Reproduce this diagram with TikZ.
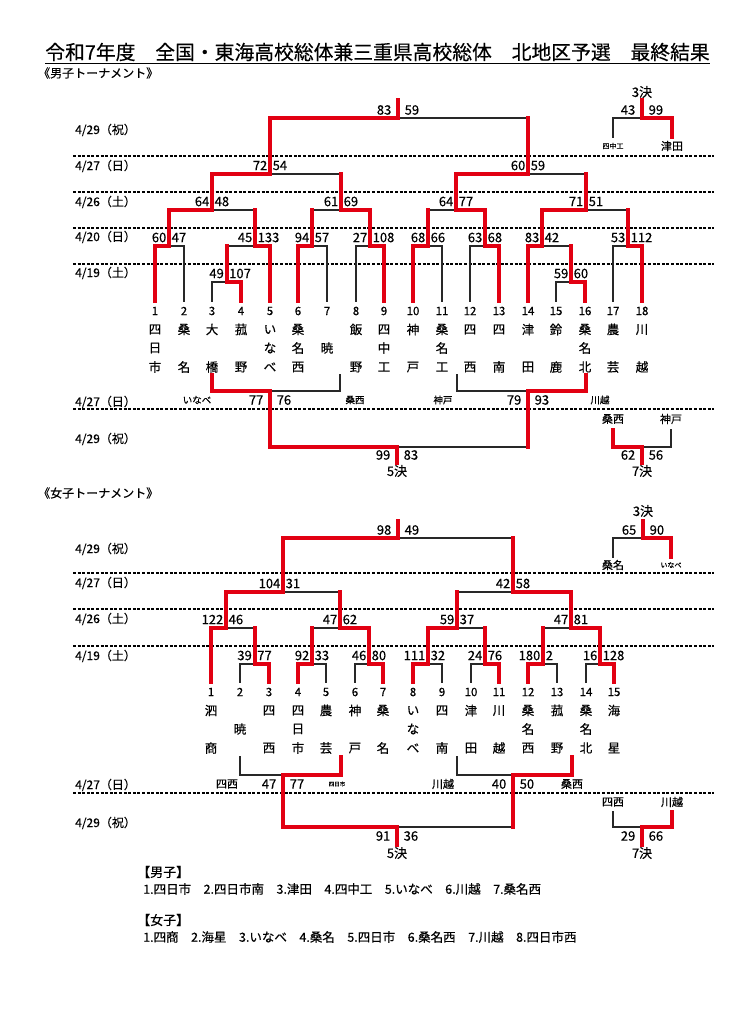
\documentclass[tikz,border=0pt]{standalone}
\usepackage{fontspec}
\setmainfont{Noto Sans CJK JP}[FakeBold=0.35]
\pgfdeclarelayer{bg}
\pgfsetlayers{bg,main}
\definecolor{wred}{RGB}{226,0,18}
\definecolor{lgray}{RGB}{40,40,40}
\newcommand{\fs}[1]{\fontsize{#1}{#1}\selectfont}
\tikzset{
 rd/.style={draw=wred,line width=4pt,line cap=rect,line join=miter},
 blk/.style={draw=lgray,line width=1.4pt,line cap=rect},
 dsh/.style={draw=black,line width=1.3pt,dash pattern=on 3pt off 1.6pt},
 sc/.style={font=\fs{13},inner sep=0pt},
 num/.style={font=\fs{11.5},inner sep=0pt},
 nm/.style={font=\fs{12.5},inner sep=0pt},
 dt/.style={font=\fs{12},inner sep=0pt,anchor=west},
 lb/.style={font=\fs{11},inner sep=0pt},
 lbs/.style={font=\fs{9.5},inner sep=0pt},
 lbt/.style={font=\fs{7},inner sep=0pt},
 ket/.style={font=\fs{13},inner sep=0pt},
 res/.style={font=\fs{12.5},inner sep=0pt,anchor=west},
}
% team: name, x, y of number, number, char1, char2, char3, line style, top y
\newcommand{\tm}[9]{%
 \node[num] (#1) at (#2,#3) {#4};
 \node[nm] (#1a) at (#2,#3+18.5) {#5};
 \node[nm] (#1b) at (#2,#3+37) {#6};
 \node[nm] (#1c) at (#2,#3+56) {#7};
 \draw[#8] (#2,#3-10) -- (#2,#9);
}
% match: name, L, R, centre, y, parent y, winner x, left score, right score
\newcommand{\mt}[9]{%
 \begin{pgfonlayer}{bg}\draw[blk] (#2,#5) -- (#3,#5);\end{pgfonlayer}
 \coordinate (#1) at (#4,#5);
 \draw[rd] (#7,#5) -- (#1) -- (#4,#6);
 \node[sc,anchor=east] (#1l) at (#4-2.5,#5-8.5) {#8};
 \node[sc,anchor=west] (#1r) at (#4+2.5,#5-8.5) {#9};
}
% wide score pair: name, centre x, y, left, right
\newcommand{\scp}[5]{%
 \node[sc,anchor=east] (#1l) at (#2-6.5,#3) {#4};
 \node[sc,anchor=west] (#1r) at (#2+6.5,#3) {#5};
}
\begin{document}
\begin{tikzpicture}[x=1pt,y=-1pt]
\begin{pgfonlayer}{bg}
\fill[white] (0,0) rectangle (752,1024);
\end{pgfonlayer}
\useasboundingbox (0,0) rectangle (752,1024);

% title
\node[font=\fs{19.8},inner sep=0pt] (title) at (377.5,52) {令和7年度　全国・東海高校総体兼三重県高校総体　北地区予選　最終結果};
\draw[line width=1.5pt] (45,63.5) -- (710,63.5);
\node[font=\fs{12},inner sep=0pt,anchor=west] (bt) at (38,73) {《男子トーナメント》};
\node[font=\fs{12},inner sep=0pt,anchor=west] (gt) at (38,493) {《女子トーナメント》};

% ================= BOYS =================
\foreach \yy in {156,192,228,264,409} {\draw[dsh] (73,\yy) -- (714,\yy);}
\node[dt] (bd1) at (75,130) {4/29（祝）};
\node[dt] (bd2) at (75,166) {4/27（日）};
\node[dt] (bd3) at (75,202) {4/26（土）};
\node[dt] (bd4) at (75,237) {4/20（日）};
\node[dt] (bd5) at (75,273) {4/19（土）};
\node[dt] (bd6) at (75,402) {4/27（日）};
\node[dt] (bd7) at (75,439) {4/29（祝）};

\tm{b1}{155}{311}{1}{四}{日}{市}{rd}{246}
\tm{b2}{184}{311}{2}{桑}{}{名}{blk}{246}
\tm{b3}{212}{311}{3}{大}{}{橋}{blk}{282}
\tm{b4}{241}{311}{4}{菰}{}{野}{rd}{282}
\tm{b5}{270}{311}{5}{い}{な}{べ}{rd}{246}
\tm{b6}{298}{311}{6}{桑}{名}{西}{rd}{246}
\tm{b7}{327}{311}{7}{}{暁}{}{blk}{246}
\tm{b8}{356}{311}{8}{飯}{}{野}{blk}{246}
\tm{b9}{384}{311}{9}{四}{中}{工}{rd}{246}
\tm{b10}{413}{311}{10}{神}{}{戸}{rd}{246}
\tm{b11}{442}{311}{11}{桑}{名}{工}{blk}{246}
\tm{b12}{470}{311}{12}{四}{}{西}{blk}{246}
\tm{b13}{499}{311}{13}{四}{}{南}{rd}{246}
\tm{b14}{528}{311}{14}{津}{}{田}{rd}{246}
\tm{b15}{556}{311}{15}{鈴}{}{鹿}{blk}{282}
\tm{b16}{585}{311}{16}{桑}{名}{北}{rd}{282}
\tm{b17}{613}{311}{17}{農}{}{芸}{blk}{246}
\tm{b18}{642}{311}{18}{川}{}{越}{rd}{246}

\mt{m1}{155}{184}{169}{246}{210}{155}{60}{47}
\mt{m2}{212}{241}{226.5}{282}{246}{241}{49}{107}
\mt{m3}{226.5}{270}{255}{246}{210}{270}{45}{133}
\mt{m4}{169}{255}{212}{210}{174}{169}{64}{48}
\mt{m5}{298}{327}{312}{246}{210}{298}{94}{57}
\mt{m6}{356}{384}{370}{246}{210}{384}{27}{108}
\mt{m7}{312}{370}{341}{210}{174}{370}{61}{69}
\mt{m8}{212}{341}{270}{174}{118}{212}{72}{54}
\mt{m9}{413}{442}{428}{246}{210}{413}{68}{66}
\mt{m10}{470}{499}{485}{246}{210}{499}{63}{68}
\mt{m11}{428}{485}{456}{210}{174}{485}{64}{77}
\mt{m12}{556}{585}{571}{282}{246}{585}{59}{60}
\mt{m13}{528}{571}{542}{246}{210}{528}{83}{42}
\mt{m14}{613}{642}{628}{246}{210}{642}{53}{112}
\mt{m15}{542}{628}{586}{210}{174}{542}{71}{51}
\mt{m16}{456}{586}{528}{174}{118}{456}{60}{59}
% final
\coordinate (bf) at (398,118);
\begin{pgfonlayer}{bg}\draw[blk] (m8 |- bf) -- (m16 |- bf);\end{pgfonlayer}
\draw[rd] (m8 |- bf) -- (bf) -- (398,100);
\scp{bfs}{398}{110}{83}{59}

% 3rd place
\coordinate (b3c) at (642,118);
\begin{pgfonlayer}{bg}\draw[blk] (613,137) -- (613,118) -- (b3c);\end{pgfonlayer}
\draw[rd] (672,137) -- (672,118) -- (b3c) -- (642,100);
\node[ket] (b3k) at (642,92) {3決};
\scp{b3s}{642}{110}{43}{99}
\node[lbt] (b3l) at (613,146) {四中工};
\node[lb] (b3r) at (672,146) {津田};

% 5th place
\begin{pgfonlayer}{bg}
\draw[blk] (270,391) -- (340,391) -- (340,375);
\draw[blk] (457,375) -- (457,391) -- (528,391);
\draw[blk] (397,447) -- (528,447);
\end{pgfonlayer}
\draw[rd] (212,375) -- (212,391) -- (270,391) -- (270,447) -- (397,447) -- (397,463);
\draw[rd] (586,375) -- (586,391) -- (528,391) -- (528,447);
\scp{b5a}{270}{400}{77}{76}
\scp{b5b}{528}{400}{79}{93}
\scp{b5f}{397}{455}{99}{83}
\node[ket] (b5k) at (397,471) {5決};
\node[lbs] (b5l1) at (197,400) {いなべ};
\node[lbs] (b5l2) at (355,400) {桑西};
\node[lbs] (b5l3) at (443,400) {神戸};
\node[lbs] (b5l4) at (600,400) {川越};
% 7th place
\begin{pgfonlayer}{bg}\draw[blk] (671,430) -- (671,447) -- (642,447);\end{pgfonlayer}
\draw[rd] (613,430) -- (613,447) -- (642,447) -- (642,463);
\node[lb] (b7l) at (613,419) {桑西};
\node[lb] (b7r) at (671,419) {神戸};
\scp{b7s}{642}{455}{62}{56}
\node[ket] (b7k) at (642,471) {7決};

% ================= GIRLS =================
\foreach \yy in {573,609,646,793} {\draw[dsh] (73,\yy) -- (714,\yy);}
\node[dt] (gd1) at (75,549) {4/29（祝）};
\node[dt] (gd2) at (75,583) {4/27（日）};
\node[dt] (gd3) at (75,619) {4/26（土）};
\node[dt] (gd4) at (75,656) {4/19（土）};
\node[dt] (gd5) at (75,785) {4/27（日）};
\node[dt] (gd6) at (75,823) {4/29（祝）};

\tm{g1}{211}{692}{1}{泗}{}{商}{rd}{628}
\tm{g2}{240}{692}{2}{}{暁}{}{blk}{664}
\tm{g3}{269}{692}{3}{四}{}{西}{rd}{664}
\tm{g4}{298}{692}{4}{四}{日}{市}{rd}{664}
\tm{g5}{326}{692}{5}{農}{}{芸}{blk}{664}
\tm{g6}{355}{692}{6}{神}{}{戸}{blk}{664}
\tm{g7}{383}{692}{7}{桑}{}{名}{rd}{664}
\tm{g8}{413}{692}{8}{い}{な}{べ}{rd}{664}
\tm{g9}{442}{692}{9}{四}{}{南}{blk}{664}
\tm{g10}{471}{692}{10}{津}{}{田}{blk}{664}
\tm{g11}{499}{692}{11}{川}{}{越}{rd}{664}
\tm{g12}{528}{692}{12}{桑}{名}{西}{rd}{664}
\tm{g13}{557}{692}{13}{菰}{}{野}{blk}{664}
\tm{g14}{586}{692}{14}{桑}{名}{北}{blk}{664}
\tm{g15}{614}{692}{15}{海}{}{星}{rd}{664}

\mt{h1}{240}{269}{254.5}{664}{628}{269}{39}{77}
\mt{h2}{211}{254.5}{226}{628}{592}{211}{122}{46}
\mt{h3}{298}{326}{312}{664}{628}{298}{92}{33}
\mt{h4}{355}{383}{369}{664}{628}{383}{46}{80}
\mt{h5}{312}{369}{340}{628}{592}{369}{47}{62}
\mt{h6}{226}{340}{283}{592}{538}{226}{104}{31}
\mt{h7}{413}{442}{428}{664}{628}{413}{111}{32}
\mt{h8}{471}{499}{485}{664}{628}{499}{24}{76}
\mt{h9}{428}{485}{457}{628}{592}{428}{59}{37}
\mt{h10}{528}{557}{543}{664}{628}{528}{180}{2}
\mt{h11}{586}{614}{600}{664}{628}{614}{16}{128}
\mt{h12}{543}{600}{571}{628}{592}{600}{47}{81}
\mt{h13}{457}{571}{513}{592}{538}{571}{42}{58}
% final
\coordinate (gf) at (398,538);
\begin{pgfonlayer}{bg}\draw[blk] (h6 |- gf) -- (h13 |- gf);\end{pgfonlayer}
\draw[rd] (h6 |- gf) -- (gf) -- (398,521);
\scp{gfs}{398}{530}{98}{49}

% 3rd place
\coordinate (g3c) at (643,538);
\begin{pgfonlayer}{bg}\draw[blk] (613,557) -- (613,538) -- (g3c);\end{pgfonlayer}
\draw[rd] (671,557) -- (671,538) -- (g3c) -- (643,521);
\node[ket] (g3k) at (643,511) {3決};
\scp{g3s}{643}{530}{65}{90}
\node[lb] (g3l) at (613,565) {桑名};
\node[lbt] (g3r) at (671,565) {いなべ};

% 5th place
\begin{pgfonlayer}{bg}
\draw[blk] (240,757) -- (240,775) -- (283,775);
\draw[blk] (457,757) -- (457,775) -- (513,775);
\draw[blk] (397,827) -- (513,827);
\end{pgfonlayer}
\draw[rd] (341,757) -- (341,775) -- (283,775) -- (283,827) -- (397,827) -- (397,845);
\draw[rd] (572,757) -- (572,775) -- (513,775) -- (513,827);
\scp{g5a}{283}{784}{47}{77}
\scp{g5b}{513}{784}{40}{50}
\scp{g5f}{397}{836}{91}{36}
\node[ket] (g5k) at (397,853) {5決};
\node[lb] (g5l1) at (227,784) {四西};
\node[font=\fs{5.5},inner sep=0pt] (g5l2) at (337,784) {四日市};
\node[lb] (g5l3) at (443,784) {川越};
\node[lb] (g5l4) at (572,784) {桑西};
% 7th place
\begin{pgfonlayer}{bg}\draw[blk] (613,812) -- (613,827) -- (642,827);\end{pgfonlayer}
\draw[rd] (672,812) -- (672,827) -- (642,827) -- (642,845);
\node[lb] (g7l) at (613,802) {四西};
\node[lb] (g7r) at (672,802) {川越};
\scp{g7s}{642}{836}{29}{66}
\node[ket] (g7k) at (642,853) {7決};

% results
\node[ket,anchor=west] (rbh) at (137,872) {【男子】};
\node[res] (rbl) at (143,889) {1.四日市　2.四日市南　3.津田　4.四中工　5.いなべ　6.川越　7.桑名西};
\node[ket,anchor=west] (rgh) at (137,920) {【女子】};
\node[res] (rgl) at (143,937) {1.四商　2.海星　3.いなべ　4.桑名　5.四日市　6.桑名西　7.川越　8.四日市西};
\end{tikzpicture}
\end{document}
